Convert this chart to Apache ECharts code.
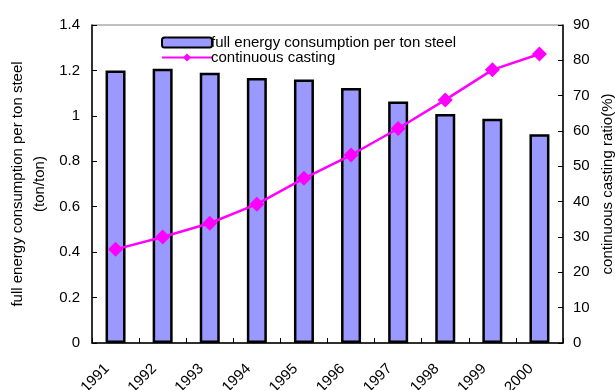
<!DOCTYPE html>
<html>
<head>
<meta charset="utf-8">
<script src="https://cdn.jsdelivr.net/npm/echarts@6/dist/echarts.min.js"></script>
<style>
  html, body { margin: 0; padding: 0; background: #fff; }
  #chart { width: 615px; height: 390px; }
</style>
</head>
<body>
<div id="chart"></div>
<script>
  // years on the x axis
  const years = ['1991', '1992', '1993', '1994', '1995', '1996', '1997', '1998', '1999', '2000']
  // full energy consumption per ton steel (ton/ton)
  const energyData = [1.20, 1.207, 1.19, 1.167, 1.16, 1.123, 1.063, 1.008, 0.987, 0.919]
  // continuous casting ratio (%)
  const castingData = [26.5, 30.0, 33.9, 39.3, 46.6, 53.2, 60.7, 68.8, 77.3, 81.8]

  const font = 'Liberation Sans, Arial, sans-serif'
  const myChart = echarts.init(document.getElementById('chart'))

  const option = {
    animation: false,
    grid: {
      left: 92,
      right: 52,
      top: 25,
      bottom: 47,
      outerBoundsMode: 'none',
      show: true,
      borderColor: '#808080',
      borderWidth: 1
    },
    legend: {
      orient: 'vertical',
      left: 156,
      top: 30,
      itemWidth: 50,
      itemHeight: 10,
      itemGap: 0,
      textStyle: { fontFamily: font, fontSize: 15, color: '#000', padding: [0, 0, 0, -6] },
      data: ['full energy consumption per ton steel', 'continuous casting']
    },
    xAxis: {
      type: 'category',
      data: years,
      axisLine: { lineStyle: { color: '#000', width: 1.5 } },
      axisTick: { show: true, inside: true, length: 5, lineStyle: { color: '#000' } },
      axisLabel: {
        rotate: 45,
        margin: 15,
        padding: [0, 12, 0, 0],
        fontFamily: font,
        fontSize: 15,
        color: '#000'
      }
    },
    yAxis: [
      {
        type: 'value',
        min: 0,
        max: 1.4,
        interval: 0.2,
        name: 'full energy consumption per ton steel\n(ton/ton)',
        nameLocation: 'middle',
        nameRotate: 90,
        nameGap: 41,
        nameMoveOverlap: false,
        nameTextStyle: { fontFamily: font, fontSize: 15, color: '#000', lineHeight: 22 },
        axisLine: { show: true, lineStyle: { color: '#000', width: 1.5 } },
        axisTick: { show: true, inside: true, length: 5, lineStyle: { color: '#000' } },
        axisLabel: { fontFamily: font, fontSize: 15, color: '#000', margin: 12 },
        splitLine: { show: false }
      },
      {
        type: 'value',
        min: 0,
        max: 90,
        interval: 10,
        position: 'right',
        name: 'continuous casting ratio(%)',
        nameLocation: 'middle',
        nameRotate: 90,
        nameGap: 37,
        nameMoveOverlap: false,
        nameTextStyle: { fontFamily: font, fontSize: 15, color: '#000' },
        axisLine: { show: true, lineStyle: { color: '#000', width: 1.5 } },
        axisTick: { show: true, inside: true, length: 5, lineStyle: { color: '#000' } },
        axisLabel: { fontFamily: font, fontSize: 15, color: '#000', margin: 10 },
        splitLine: { show: false }
      }
    ],
    series: [
      {
        name: 'full energy consumption per ton steel',
        type: 'bar',
        data: energyData,
        barWidth: 20,
        itemStyle: { color: '#9999FF', borderColor: '#000', borderWidth: 2.5 }
      },
      {
        name: 'continuous casting',
        type: 'line',
        yAxisIndex: 1,
        data: castingData,
        symbol: 'diamond',
        symbolSize: 15,
        lineStyle: { color: '#FF00FF', width: 2.5 },
        itemStyle: { color: '#FF00FF' }
      }
    ]
  }

  myChart.setOption(option)
</script>
</body>
</html>
